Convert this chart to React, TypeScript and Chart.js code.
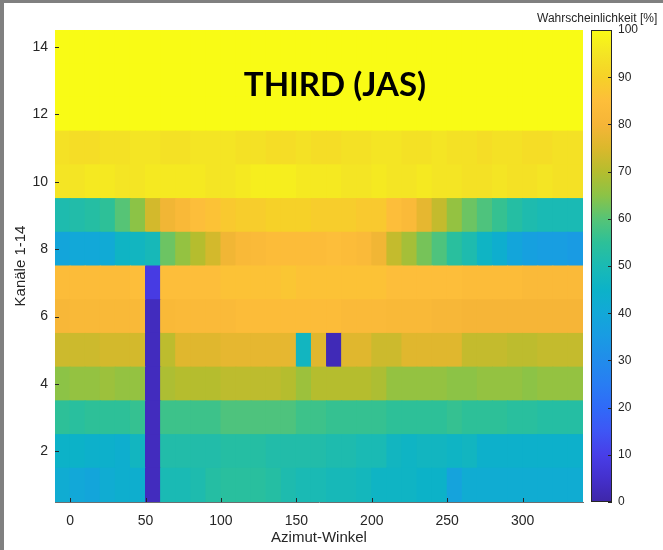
import React, { useEffect, useRef } from "react";
import { Chart, registerables } from "chart.js";

Chart.register(...registerables);

// Azimuth cell centres (cells are 10 degrees wide)
const azimuthCenters = [-5, 5, 15, 25, 35, 45, 55, 65, 75, 85, 95, 105, 115, 125, 135, 145, 155, 165, 175, 185, 195, 205, 215, 225, 235, 245, 255, 265, 275, 285, 295, 305, 315, 325, 335];
const xTickValues = [0, 50, 100, 150, 200, 250, 300];
const channelTickValues = [2, 4, 6, 8, 10, 12, 14];
const colorbarTickValues = [0, 10, 20, 30, 40, 50, 60, 70, 80, 90, 100];

// Probability [%] per channel (row) across azimuth cells
const channel1 = [42, 40, 39, 42, 43, 43, 3, 50, 50, 51, 53, 54, 54, 54, 53, 51, 50, 50, 49, 49, 48, 46, 46, 46, 45, 45, 38, 42, 42, 42, 42, 42, 42, 42, 42];
const channel2 = [45, 45, 44, 44, 43, 47, 3, 52, 52, 52, 52, 53, 53, 53, 52, 52, 52, 52, 51, 51, 50, 50, 47, 46, 47, 47, 46, 47, 44, 44, 44, 44, 44, 44, 44];
const channel3 = [55, 54, 55, 55, 55, 56, 3, 57, 57, 57, 57, 59, 59, 59, 59, 59, 57, 57, 56, 56, 56, 56, 55, 55, 55, 55, 56, 55, 55, 55, 54, 54, 53, 53, 53];
const channel4 = [65, 66, 66, 67, 66, 66, 3, 69, 70, 70, 70, 71, 71, 71, 71, 70, 67, 70, 70, 70, 70, 69, 66, 66, 66, 66, 65, 65, 66, 66, 66, 65, 66, 66, 66];
const channel5 = [73, 73, 73, 74, 74, 74, 3, 71, 76, 76, 76, 77, 77, 77, 77, 77, 47, 76, 2, 76, 76, 73, 73, 76, 76, 76, 76, 72, 72, 72, 71, 71, 72, 72, 72];
const channel6 = [81, 82, 82, 82, 82, 82, 3, 82, 83, 83, 83, 83, 84, 84, 84, 84, 84, 84, 84, 83, 83, 83, 82, 82, 82, 81, 81, 80, 80, 80, 80, 80, 80, 80, 80];
const channel7 = [84, 84, 84, 84, 84, 85, 9, 85, 85, 85, 85, 86, 86, 86, 86, 87, 86, 86, 86, 86, 86, 86, 85, 85, 85, 85, 85, 84, 84, 84, 84, 83, 83, 83, 83];
const channel8 = [39, 40, 40, 41, 46, 47, 49, 62, 66, 70, 74, 79, 82, 83, 84, 84, 84, 84, 85, 84, 83, 79, 72, 68, 63, 59, 54, 51, 46, 43, 39, 37, 36, 36, 35];
const channel9 = [51, 52, 53, 55, 60, 65, 74, 79, 82, 85, 86, 88, 89, 89, 90, 90, 90, 89, 89, 89, 88, 88, 85, 83, 77, 72, 66, 62, 59, 56, 53, 51, 50, 50, 50];
const channel10 = [95, 95, 96, 96, 95, 95, 96, 96, 96, 96, 95, 95, 96, 97, 97, 97, 96, 96, 96, 95, 95, 96, 95, 95, 96, 95, 95, 94, 94, 95, 94, 94, 95, 94, 94];
const channel11 = [94, 93, 93, 94, 94, 95, 95, 94, 94, 95, 95, 95, 94, 94, 93, 93, 94, 93, 93, 94, 94, 95, 95, 94, 94, 95, 94, 94, 93, 94, 94, 93, 93, 94, 94];
const channel12 = [100, 100, 100, 100, 100, 100, 100, 100, 100, 100, 100, 100, 100, 100, 100, 100, 100, 100, 100, 100, 100, 100, 100, 100, 100, 100, 100, 100, 100, 100, 100, 100, 100, 100, 100];
const channel13 = [100, 100, 100, 100, 100, 100, 100, 100, 100, 100, 100, 100, 100, 100, 100, 100, 100, 100, 100, 100, 100, 100, 100, 100, 100, 100, 100, 100, 100, 100, 100, 100, 100, 100, 100];
const channel14 = [100, 100, 100, 100, 100, 100, 100, 100, 100, 100, 100, 100, 100, 100, 100, 100, 100, 100, 100, 100, 100, 100, 100, 100, 100, 100, 100, 100, 100, 100, 100, 100, 100, 100, 100];

const channels = [channel1, channel2, channel3, channel4, channel5, channel6, channel7, channel8, channel9, channel10, channel11, channel12, channel13, channel14];

// parula-like colour map stops (value, rgb)
const cmapValues = [0, 5, 10, 15, 20, 25, 30, 35, 40, 45, 50, 55, 60, 65, 70, 75, 80, 85, 90, 95, 100];
const cmapColors = [
  [62, 38, 168], [68, 48, 205], [72, 62, 232], [62, 86, 245], [48, 106, 248],
  [40, 125, 243], [33, 140, 235], [25, 155, 227], [18, 168, 216], [12, 178, 200],
  [26, 186, 180], [45, 192, 152], [86, 196, 118], [140, 195, 70], [181, 189, 46],
  [219, 184, 44], [246, 181, 55], [253, 190, 58], [246, 209, 40], [244, 229, 36],
  [249, 251, 21],
];

function colorFor(v: number): string {
  const val = Math.max(0, Math.min(100, v));
  for (let i = 0; i < cmapValues.length - 1; i++) {
    const a = cmapValues[i], b = cmapValues[i + 1];
    if (val >= a && val <= b) {
      const t = (val - a) / (b - a);
      const ca = cmapColors[i], cb = cmapColors[i + 1];
      const r = Math.round(ca[0] + (cb[0] - ca[0]) * t);
      const g = Math.round(ca[1] + (cb[1] - ca[1]) * t);
      const bl = Math.round(ca[2] + (cb[2] - ca[2]) * t);
      return `rgb(${r},${g},${bl})`;
    }
  }
  const c = cmapColors[cmapColors.length - 1];
  return `rgb(${c[0]},${c[1]},${c[2]})`;
}

const AXIS_COLOR = "#262626";
const FONT = "'Liberation Sans', Arial, sans-serif";

// Fixed plot frame (pixels)
const PLOT_TOP = 30;
const PLOT_LEFT = 55;
const PLOT_RIGHT_SPACE = 80;
const PLOT_BOTTOM_SPACE = 48;

const decorPlugin = {
  id: "decor",
  afterDraw(chart: any) {
    const ctx = chart.ctx as CanvasRenderingContext2D;
    const ca = chart.chartArea;
    const xs = chart.scales.x;
    const ys = chart.scales.y;
    const cs = chart.scales.cb;
    ctx.save();
    ctx.strokeStyle = AXIS_COLOR;
    ctx.lineWidth = 1;
    ctx.beginPath();
    for (const t of xTickValues) {
      const px = Math.round(xs.getPixelForValue(t)) + 0.5;
      ctx.moveTo(px, ca.bottom);
      ctx.lineTo(px, ca.bottom - 4);
    }
    for (const t of channelTickValues) {
      const py = Math.round(ys.getPixelForValue(t)) + 0.5;
      ctx.moveTo(ca.left, py);
      ctx.lineTo(ca.left + 4, py);
    }
    ctx.stroke();

    const cbLeft = ca.right + 8;
    const cbWidth = 21;
    const top = cs.getPixelForValue(100);
    const bottom = cs.getPixelForValue(0);
    const grad = ctx.createLinearGradient(0, bottom, 0, top);
    for (let i = 0; i < cmapValues.length; i++) {
      const c = cmapColors[i];
      grad.addColorStop(cmapValues[i] / 100, `rgb(${c[0]},${c[1]},${c[2]})`);
    }
    ctx.fillStyle = grad;
    ctx.fillRect(cbLeft, top, cbWidth, bottom - top);
    ctx.strokeStyle = AXIS_COLOR;
    ctx.strokeRect(cbLeft + 0.5, top + 0.5, cbWidth - 1, bottom - top - 1);
    ctx.beginPath();
    for (const t of colorbarTickValues) {
      const py = Math.round(cs.getPixelForValue(t)) + 0.5;
      ctx.moveTo(cbLeft + cbWidth, py);
      ctx.lineTo(cbLeft + cbWidth - 4, py);
    }
    ctx.stroke();

    ctx.fillStyle = AXIS_COLOR;
    ctx.font = `12px ${FONT}`;
    ctx.textAlign = "left";
    ctx.textBaseline = "alphabetic";
    ctx.fillText("Wahrscheinlichkeit [%]", cbLeft - 54, top - 8);

    ctx.fillStyle = "#000000";
    ctx.font = "bold 33px Lato, 'Open Sans', sans-serif";
    ctx.textAlign = "center";
    ctx.fillText("THIRD (JAS)", (ca.left + ca.right) / 2 + 16, 96);
    ctx.restore();
  },
};

// Forces the chart area to the fixed frame
const framePlugin = {
  id: "frame",
  afterLayout(chart: any) {
    const ca = chart.chartArea;
    const W = chart.width, H = chart.height;
    ca.left = PLOT_LEFT;
    ca.top = PLOT_TOP;
    ca.right = W - PLOT_RIGHT_SPACE;
    ca.bottom = H - PLOT_BOTTOM_SPACE;
    ca.width = ca.right - ca.left;
    ca.height = ca.bottom - ca.top;
    const xs = chart.scales.x, ys = chart.scales.y, cs = chart.scales.cb;
    for (const s of [ys, cs]) {
      s.top = ca.top; s.bottom = ca.bottom; s.height = ca.height;
      s.configure();
    }
    ys.left = 0; ys.right = ca.left; ys.width = ca.left;
    cs.left = ca.right; cs.right = W; cs.width = W - ca.right;
    xs.left = ca.left; xs.right = ca.right; xs.width = ca.width;
    xs.top = ca.bottom; xs.bottom = H; xs.height = H - ca.bottom;
    xs.configure();
    ys.configure();
    cs.configure();
  },
};

export default function App() {
  const canvasRef = useRef<HTMLCanvasElement | null>(null);

  useEffect(() => {
    if (!canvasRef.current) return;
    const datasets = channels.map((row, k) => ({
      label: `Kanal ${k + 1}`,
      data: azimuthCenters.map((x) => ({ x, y: [k + 0.5, k + 1.5] })),
      backgroundColor: row.map((v) => colorFor(v)),
      borderWidth: 0,
      borderSkipped: false,
      grouped: false,
      barPercentage: 1,
      categoryPercentage: 1,
      inflateAmount: 0.5,
    }));

    const chart = new Chart(canvasRef.current, {
      type: "bar",
      data: { datasets: datasets as any },
      options: {
        responsive: false,
        animation: false,
        devicePixelRatio: 1,
        layout: { padding: { top: PLOT_TOP, left: 0, right: 0, bottom: 0 } },
        plugins: {
          legend: { display: false },
          tooltip: { enabled: false },
          title: { display: false },
        },
        scales: {
          x: {
            type: "linear",
            min: -10,
            max: 340,
            offset: false,
            z: 1,
            grid: { display: false, drawTicks: false },
            border: { display: true, color: "#6e6e6e", width: 1 },
            ticks: {
              color: AXIS_COLOR,
              font: { family: FONT, size: 14 },
              padding: 11,
              maxRotation: 0,
              autoSkip: false,
            },
            afterBuildTicks: (s: any) => {
              s.ticks = xTickValues.map((v) => ({ value: v }));
            },
            title: {
              display: true,
              text: "Azimut-Winkel",
              color: AXIS_COLOR,
              font: { family: FONT, size: 15 },
              padding: { top: 0, bottom: 3 },
            },
          },
          y: {
            type: "linear",
            position: "left",
            min: 0.5,
            max: 14.5,
            z: 1,
            grid: { display: false, drawTicks: false },
            border: { display: true, color: "#6e6e6e", width: 1 },
            ticks: {
              color: AXIS_COLOR,
              font: { family: FONT, size: 14 },
              padding: 7,
              autoSkip: false,
            },
            afterBuildTicks: (s: any) => {
              s.ticks = channelTickValues.map((v) => ({ value: v }));
            },
            title: {
              display: true,
              text: "Kanäle 1-14",
              color: AXIS_COLOR,
              font: { family: FONT, size: 15 },
              padding: { top: 12, bottom: 0 },
            },
          },
          cb: {
            type: "linear",
            position: "right",
            min: 0,
            max: 100,
            grid: { display: false, drawTicks: false },
            border: { display: false },
            ticks: {
              color: AXIS_COLOR,
              font: { family: FONT, size: 12 },
              padding: 35,
              autoSkip: false,
            },
            afterBuildTicks: (s: any) => {
              s.ticks = colorbarTickValues.map((v) => ({ value: v }));
            },
          },
        },
      } as any,
      plugins: [framePlugin, decorPlugin],
    });
    return () => chart.destroy();
  }, []);

  return (
    <div style={{ position: "fixed", left: 0, top: 0, width: 663, height: 550, background: "#808080", overflow: "hidden" }}>
      <div style={{ position: "absolute", left: 4, top: 3, right: 0, bottom: 0, background: "#ffffff" }} />
      <canvas
        ref={canvasRef}
        width={663}
        height={550}
        style={{ position: "absolute", left: 0, top: 0, width: 663, height: 550 }}
      />
    </div>
  );
}
